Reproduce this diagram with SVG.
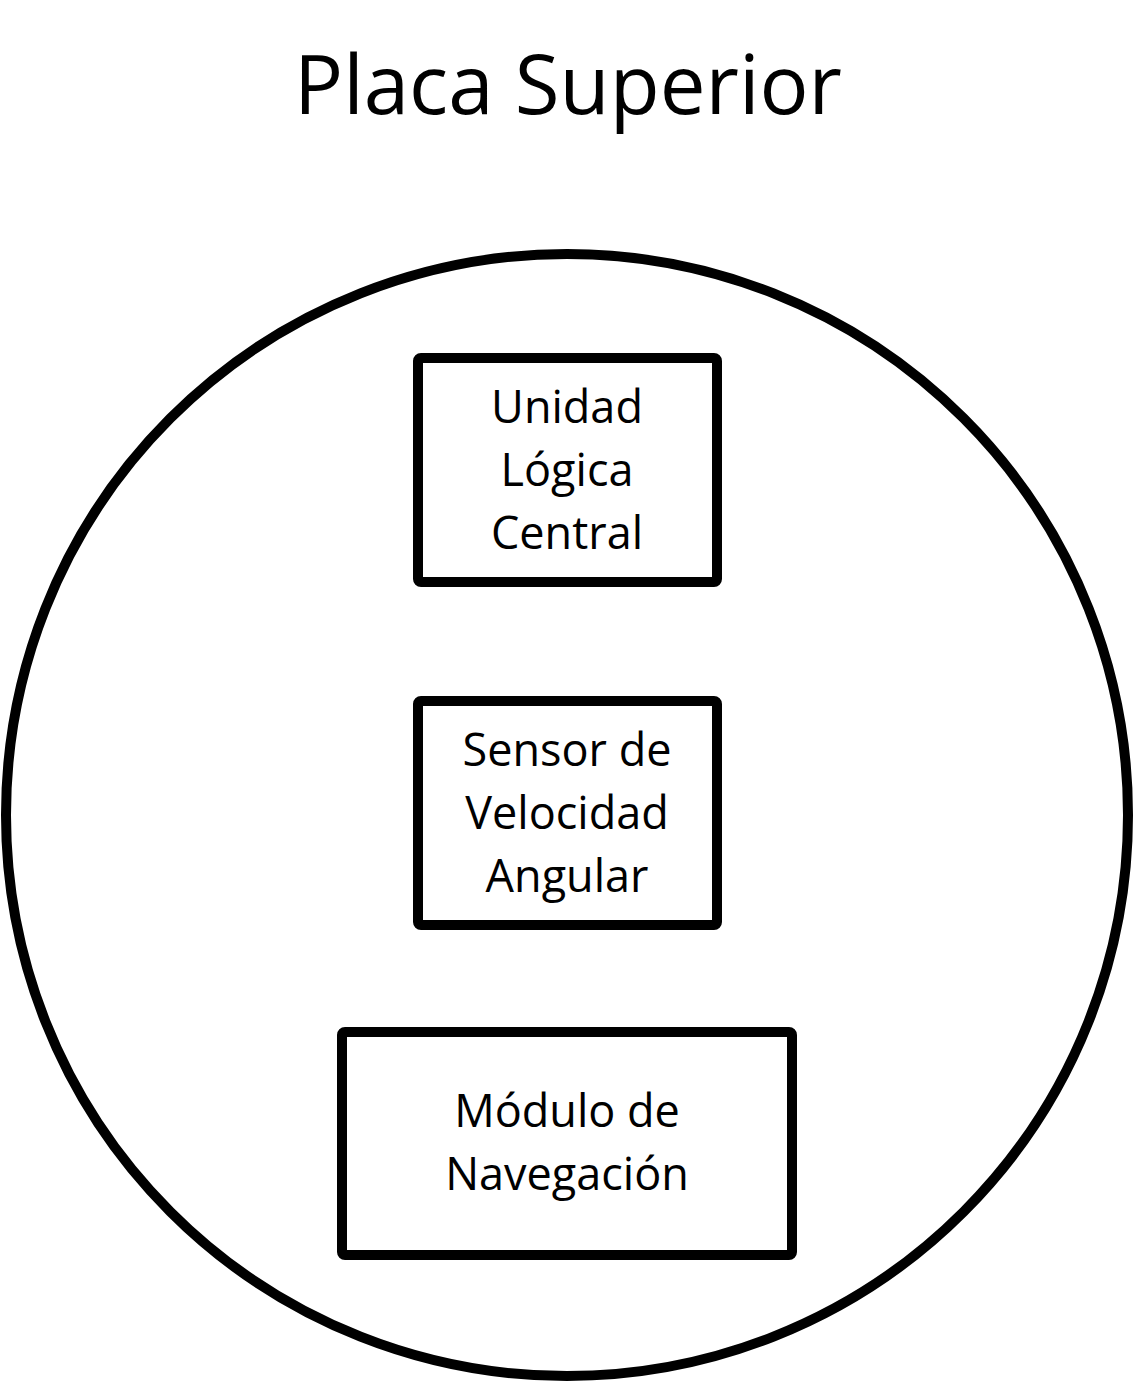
<svg xmlns="http://www.w3.org/2000/svg" width="1135" height="1381" viewBox="0 0 1135 1381">
<style>
.shape{fill:none;stroke:#000;stroke-width:10;stroke-linejoin:round}
.lbl{font-family:"Open Sans","Noto Sans",sans-serif;font-size:45px;fill:#000;text-anchor:middle}
.title{font-family:"Open Sans","Noto Sans",sans-serif;font-size:82px;fill:#000;text-anchor:middle}
</style>
<rect width="1135" height="1381" fill="#fff"/>
<text class="title" x="568" y="114" textLength="548" lengthAdjust="spacingAndGlyphs">Placa Superior</text>
<g id="placa">
<ellipse class="shape" cx="567" cy="815" rx="561" ry="561"/>
</g>
<g id="connectors"></g>
<g id="unidad">
<rect class="shape" x="418" y="358" width="299" height="224" rx="3"/>
<text class="lbl" x="567" y="423">Unidad</text>
<text class="lbl" x="567" y="486">Lógica</text>
<text class="lbl" x="567" y="549">Central</text>
</g>
<g id="sensor">
<rect class="shape" x="418" y="701" width="299" height="224" rx="3"/>
<text class="lbl" x="567" y="766">Sensor de</text>
<text class="lbl" x="567" y="829">Velocidad</text>
<text class="lbl" x="567" y="892">Angular</text>
</g>
<g id="modulo">
<rect class="shape" x="342" y="1032" width="450" height="223" rx="3"/>
<text class="lbl" x="567" y="1127">Módulo de</text>
<text class="lbl" x="567" y="1190">Navegación</text>
</g>
</svg>
